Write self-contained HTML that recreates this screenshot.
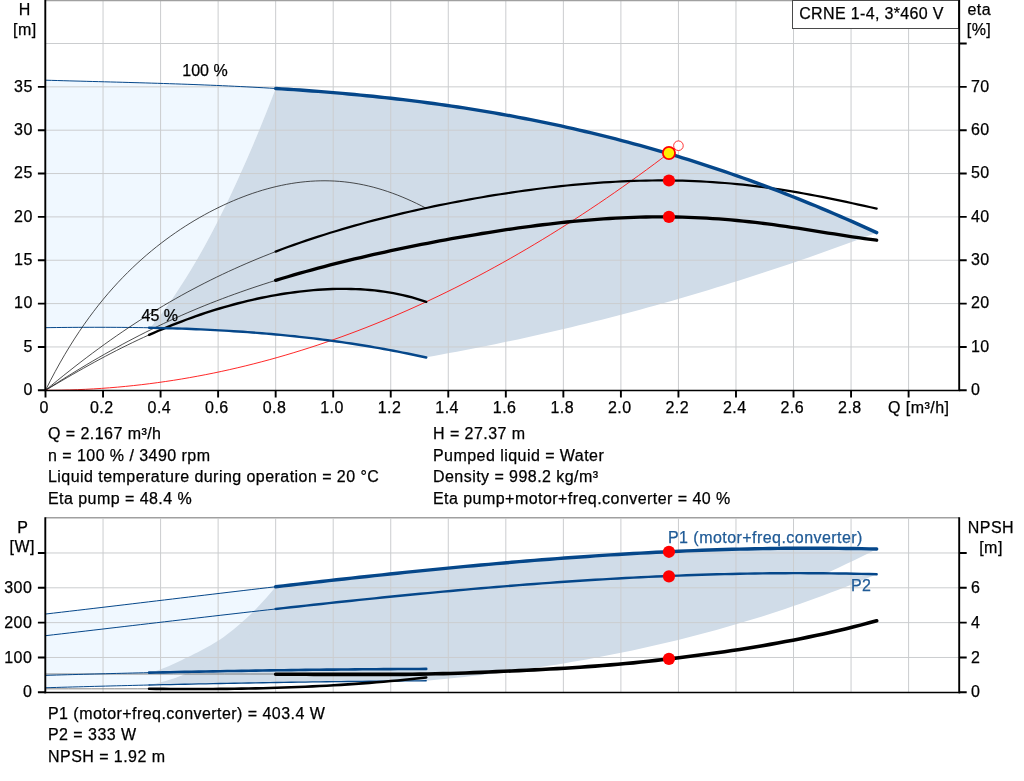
<!DOCTYPE html>
<html lang="en">
<head>
<meta charset="utf-8">
<title>CRNE 1-4 pump curve</title>
<style>html,body{margin:0;padding:0;background:#fff;overflow:hidden}svg{display:block}text{white-space:pre;letter-spacing:0.45px;stroke:#000;stroke-width:0.25px}text.b{stroke:#1f5a96}</style>
</head>
<body>
<svg width="1024" height="781" viewBox="0 0 1024 781" font-family="'Liberation Sans', Arial, sans-serif" font-size="16" fill="#000">
<rect width="1024" height="781" fill="#fff"/>
<path d="M45.50,80.19 L51.40,80.36 L57.30,80.53 L63.20,80.69 L69.11,80.86 L75.01,81.02 L80.91,81.17 L86.81,81.33 L92.71,81.49 L98.61,81.64 L104.52,81.80 L110.42,81.96 L116.32,82.12 L122.22,82.28 L128.12,82.44 L134.02,82.61 L139.92,82.78 L145.83,82.95 L151.73,83.13 L157.63,83.31 L163.53,83.49 L169.43,83.69 L175.33,83.88 L181.24,84.09 L187.14,84.29 L193.04,84.51 L198.94,84.73 L204.84,84.97 L210.74,85.21 L216.64,85.45 L222.55,85.71 L228.45,85.98 L234.35,86.25 L240.25,86.54 L246.15,86.83 L252.05,87.14 L257.96,87.46 L263.86,87.78 L269.76,88.13 L275.66,88.48 L275.66,88.48 L272.41,96.93 L269.17,105.26 L265.92,113.48 L262.68,121.57 L259.43,129.54 L256.18,137.39 L252.94,145.13 L249.69,152.74 L246.45,160.23 L243.20,167.60 L239.96,174.86 L236.71,181.99 L233.46,189.00 L230.22,195.89 L226.97,202.67 L223.73,209.32 L220.48,215.85 L217.23,222.26 L213.99,228.55 L210.74,234.73 L207.50,240.78 L204.25,246.71 L201.01,252.52 L197.76,258.21 L194.51,263.78 L191.27,269.24 L188.02,274.57 L184.78,279.78 L181.53,284.87 L178.28,289.84 L175.04,294.69 L171.79,299.42 L168.55,304.04 L165.30,308.53 L162.06,312.90 L158.81,317.15 L155.56,321.28 L152.32,325.29 L149.07,329.18 L149.07,327.77 L143.62,327.67 L138.17,327.58 L132.72,327.51 L127.27,327.44 L121.82,327.39 L116.37,327.35 L110.91,327.32 L105.46,327.30 L100.01,327.29 L94.56,327.29 L89.11,327.30 L83.66,327.32 L78.21,327.35 L72.76,327.39 L67.30,327.43 L61.85,327.48 L56.40,327.54 L50.95,327.60 L45.50,327.68Z" fill="#f0f8ff"/>
<path d="M275.66,88.48 L283.27,88.95 L290.88,89.45 L298.48,89.96 L306.09,90.50 L313.70,91.07 L321.31,91.65 L328.91,92.26 L336.52,92.90 L344.13,93.57 L351.74,94.26 L359.34,94.98 L366.95,95.72 L374.56,96.50 L382.17,97.30 L389.77,98.14 L397.38,99.00 L404.99,99.90 L412.60,100.82 L420.21,101.78 L427.81,102.78 L435.42,103.80 L443.03,104.86 L450.64,105.95 L458.24,107.08 L465.85,108.25 L473.46,109.45 L481.07,110.68 L488.67,111.95 L496.28,113.26 L503.89,114.61 L511.50,115.99 L519.11,117.42 L526.71,118.88 L534.32,120.38 L541.93,121.92 L549.54,123.50 L557.14,125.12 L564.75,126.78 L572.36,128.48 L579.97,130.23 L587.57,132.01 L595.18,133.84 L602.79,135.71 L610.40,137.62 L618.00,139.57 L625.61,141.57 L633.22,143.61 L640.83,145.69 L648.44,147.82 L656.04,149.99 L663.65,152.20 L671.26,154.46 L678.87,156.77 L686.47,159.11 L694.08,161.51 L701.69,163.95 L709.30,166.43 L716.90,168.96 L724.51,171.53 L732.12,174.15 L739.73,176.82 L747.34,179.53 L754.94,182.28 L762.55,185.09 L770.16,187.93 L777.77,190.83 L785.37,193.77 L792.98,196.76 L800.59,199.79 L808.20,202.87 L815.80,205.99 L823.41,209.16 L831.02,212.38 L838.63,215.64 L846.23,218.95 L853.84,222.30 L861.45,225.70 L869.06,229.15 L876.67,232.64 L876.67,232.64 L869.03,235.52 L861.40,238.38 L853.76,241.21 L846.13,244.01 L838.49,246.79 L830.86,249.54 L823.23,252.26 L815.59,254.96 L807.96,257.63 L800.32,260.27 L792.69,262.89 L785.05,265.48 L777.42,268.04 L769.79,270.58 L762.15,273.09 L754.52,275.57 L746.88,278.03 L739.25,280.46 L731.61,282.87 L723.98,285.24 L716.35,287.60 L708.71,289.92 L701.08,292.22 L693.44,294.49 L685.81,296.73 L678.17,298.95 L670.54,301.14 L662.91,303.31 L655.27,305.44 L647.64,307.56 L640.00,309.64 L632.37,311.70 L624.73,313.73 L617.10,315.74 L609.47,317.71 L601.83,319.67 L594.20,321.59 L586.56,323.49 L578.93,325.36 L571.29,327.21 L563.66,329.03 L556.03,330.82 L548.39,332.58 L540.76,334.32 L533.12,336.04 L525.49,337.72 L517.85,339.38 L510.22,341.01 L502.59,342.62 L494.95,344.20 L487.32,345.75 L479.68,347.28 L472.05,348.78 L464.41,350.25 L456.78,351.70 L449.15,353.12 L441.51,354.51 L433.88,355.88 L426.24,357.22 L426.24,357.52 L419.14,355.96 L412.03,354.45 L404.92,352.99 L397.81,351.58 L390.71,350.23 L383.60,348.92 L376.49,347.66 L369.39,346.44 L362.28,345.27 L355.17,344.15 L348.07,343.07 L340.96,342.03 L333.85,341.04 L326.75,340.09 L319.64,339.18 L312.53,338.31 L305.42,337.49 L298.32,336.70 L291.21,335.95 L284.10,335.23 L277.00,334.56 L269.89,333.92 L262.78,333.31 L255.68,332.74 L248.57,332.20 L241.46,331.70 L234.36,331.23 L227.25,330.78 L220.14,330.37 L213.03,329.99 L205.93,329.64 L198.82,329.32 L191.71,329.02 L184.61,328.75 L177.50,328.50 L170.39,328.29 L163.29,328.09 L156.18,327.92 L149.07,327.77 L149.07,329.18 L152.32,325.29 L155.56,321.28 L158.81,317.15 L162.06,312.90 L165.30,308.53 L168.55,304.04 L171.79,299.42 L175.04,294.69 L178.28,289.84 L181.53,284.87 L184.78,279.78 L188.02,274.57 L191.27,269.24 L194.51,263.78 L197.76,258.21 L201.01,252.52 L204.25,246.71 L207.50,240.78 L210.74,234.73 L213.99,228.55 L217.23,222.26 L220.48,215.85 L223.73,209.32 L226.97,202.67 L230.22,195.89 L233.46,189.00 L236.71,181.99 L239.96,174.86 L243.20,167.60 L246.45,160.23 L249.69,152.74 L252.94,145.13 L256.18,137.39 L259.43,129.54 L262.68,121.57 L265.92,113.48 L269.17,105.26 L272.41,96.93 L275.66,88.48Z" fill="#d0dce8"/>
<path d="M45.50,614.04 L53.44,613.12 L61.37,612.19 L69.31,611.26 L77.25,610.33 L85.18,609.40 L93.12,608.46 L101.06,607.52 L108.99,606.58 L116.93,605.63 L124.87,604.69 L132.80,603.74 L140.74,602.79 L148.68,601.84 L156.61,600.89 L164.55,599.94 L172.48,598.99 L180.42,598.04 L188.36,597.09 L196.29,596.14 L204.23,595.19 L212.17,594.24 L220.10,593.30 L228.04,592.35 L235.98,591.41 L243.91,590.47 L251.85,589.54 L259.79,588.60 L267.72,587.67 L275.66,586.75 L275.66,608.99 L271.29,613.72 L266.93,618.26 L262.56,622.63 L258.20,626.82 L253.83,630.84 L249.47,634.68 L245.10,638.37 L240.74,641.89 L236.37,645.25 L232.01,648.46 L227.64,651.52 L223.28,654.43 L218.91,657.19 L214.55,659.82 L210.18,662.32 L205.82,664.68 L201.45,666.91 L197.09,669.02 L192.72,671.00 L188.36,672.87 L183.99,674.63 L179.63,676.28 L175.26,677.81 L170.90,679.25 L166.53,680.59 L162.17,681.83 L157.80,682.98 L153.44,684.04 L149.07,685.02 L149.07,685.02 L143.62,685.15 L138.17,685.28 L132.72,685.41 L127.27,685.55 L121.82,685.68 L116.37,685.82 L110.91,685.96 L105.46,686.10 L100.01,686.24 L94.56,686.38 L89.11,686.53 L83.66,686.68 L78.21,686.83 L72.76,686.98 L67.30,687.13 L61.85,687.28 L56.40,687.44 L50.95,687.60 L45.50,687.76Z" fill="#f0f8ff"/>
<path d="M275.66,586.75 L283.27,585.87 L290.88,584.99 L298.48,584.11 L306.09,583.24 L313.70,582.37 L321.31,581.51 L328.91,580.66 L336.52,579.80 L344.13,578.96 L351.74,578.12 L359.34,577.29 L366.95,576.46 L374.56,575.64 L382.17,574.83 L389.77,574.02 L397.38,573.22 L404.99,572.43 L412.60,571.65 L420.21,570.88 L427.81,570.11 L435.42,569.35 L443.03,568.60 L450.64,567.86 L458.24,567.13 L465.85,566.41 L473.46,565.70 L481.07,565.01 L488.67,564.32 L496.28,563.64 L503.89,562.97 L511.50,562.31 L519.11,561.67 L526.71,561.04 L534.32,560.42 L541.93,559.81 L549.54,559.21 L557.14,558.63 L564.75,558.06 L572.36,557.50 L579.97,556.96 L587.57,556.43 L595.18,555.91 L602.79,555.41 L610.40,554.92 L618.00,554.45 L625.61,553.99 L633.22,553.55 L640.83,553.13 L648.44,552.71 L656.04,552.32 L663.65,551.94 L671.26,551.58 L678.87,551.24 L686.47,550.91 L694.08,550.60 L701.69,550.31 L709.30,550.03 L716.90,549.78 L724.51,549.54 L732.12,549.32 L739.73,549.12 L747.34,548.93 L754.94,548.77 L762.55,548.63 L770.16,548.51 L777.77,548.40 L785.37,548.32 L792.98,548.26 L800.59,548.22 L808.20,548.20 L815.80,548.20 L823.41,548.22 L831.02,548.27 L838.63,548.34 L846.23,548.43 L853.84,548.54 L861.45,548.67 L869.06,548.83 L876.67,549.01 L876.67,549.01 L869.03,552.90 L861.40,556.70 L853.76,560.44 L846.13,564.10 L838.49,567.68 L830.86,571.18 L823.23,574.60 L815.59,577.94 L807.96,581.21 L800.32,584.39 L792.69,587.49 L785.05,590.52 L777.42,593.46 L769.79,596.33 L762.15,599.12 L754.52,601.84 L746.88,604.48 L739.25,607.04 L731.61,609.53 L723.98,611.96 L716.35,614.31 L708.71,616.59 L701.08,618.81 L693.44,620.96 L685.81,623.04 L678.17,625.07 L670.54,627.04 L662.91,628.95 L655.27,630.80 L647.64,632.60 L640.00,634.34 L632.37,636.04 L624.73,637.69 L617.10,639.29 L609.47,640.84 L601.83,642.36 L594.20,643.83 L586.56,645.26 L578.93,646.66 L571.29,648.02 L563.66,649.34 L556.03,650.63 L548.39,651.90 L540.76,653.13 L533.12,654.33 L525.49,655.51 L517.85,656.67 L510.22,657.79 L502.59,658.90 L494.95,659.99 L487.32,661.05 L479.68,662.09 L472.05,663.12 L464.41,664.13 L456.78,665.12 L449.15,666.09 L441.51,667.05 L433.88,667.99 L426.24,668.92 L426.24,668.92 L419.14,668.95 L412.03,668.98 L404.92,669.02 L397.81,669.06 L390.71,669.11 L383.60,669.15 L376.49,669.21 L369.39,669.26 L362.28,669.32 L355.17,669.38 L348.07,669.45 L340.96,669.51 L333.85,669.59 L326.75,669.66 L319.64,669.74 L312.53,669.82 L305.42,669.91 L298.32,670.00 L291.21,670.09 L284.10,670.18 L277.00,670.28 L269.89,670.39 L262.78,670.49 L255.68,670.60 L248.57,670.71 L241.46,670.83 L234.36,670.95 L227.25,671.07 L220.14,671.20 L213.03,671.33 L205.93,671.46 L198.82,671.60 L191.71,671.74 L184.61,671.88 L177.50,672.03 L170.39,672.18 L163.29,672.33 L156.18,672.49 L149.07,672.65 L149.07,672.65 L152.32,671.82 L155.56,670.91 L158.81,669.90 L162.06,668.79 L165.30,667.57 L168.55,666.23 L171.79,664.81 L175.04,663.32 L178.28,661.78 L181.53,660.20 L184.78,658.60 L188.02,657.00 L191.27,655.41 L194.51,653.81 L197.76,652.19 L201.01,650.54 L204.25,648.84 L207.50,647.08 L210.74,645.25 L213.99,643.33 L217.23,641.32 L220.48,639.19 L223.73,636.93 L226.97,634.55 L230.22,632.05 L233.46,629.45 L236.71,626.75 L239.96,623.96 L243.20,621.09 L246.45,618.16 L249.69,615.13 L252.94,611.98 L256.18,608.70 L259.43,605.31 L262.68,601.80 L265.92,598.19 L269.17,594.47 L272.41,590.66 L275.66,586.75Z" fill="#d0dce8"/>
<path d="M275.66,608.99 L283.27,608.14 L290.88,607.29 L298.48,606.45 L306.09,605.61 L313.70,604.78 L321.31,603.95 L328.91,603.13 L336.52,602.31 L344.13,601.50 L351.74,600.70 L359.34,599.90 L366.95,599.11 L374.56,598.33 L382.17,597.56 L389.77,596.79 L397.38,596.03 L404.99,595.28 L412.60,594.54 L420.21,593.80 L427.81,593.08 L435.42,592.36 L443.03,591.65 L450.64,590.95 L458.24,590.26 L465.85,589.59 L473.46,588.92 L481.07,588.26 L488.67,587.61 L496.28,586.98 L503.89,586.35 L511.50,585.74 L519.11,585.13 L526.71,584.54 L534.32,583.97 L541.93,583.40 L549.54,582.85 L557.14,582.31 L564.75,581.78 L572.36,581.26 L579.97,580.76 L587.57,580.27 L595.18,579.80 L602.79,579.34 L610.40,578.90 L618.00,578.47 L625.61,578.05 L633.22,577.65 L640.83,577.27 L648.44,576.90 L656.04,576.55 L663.65,576.21 L671.26,575.89 L678.87,575.58 L686.47,575.30 L694.08,575.03 L701.69,574.77 L709.30,574.54 L716.90,574.32 L724.51,574.12 L732.12,573.94 L739.73,573.78 L747.34,573.63 L754.94,573.51 L762.55,573.40 L770.16,573.31 L777.77,573.25 L785.37,573.20 L792.98,573.17 L800.59,573.16 L808.20,573.18 L815.80,573.21 L823.41,573.27 L831.02,573.34 L838.63,573.44 L846.23,573.56 L853.84,573.70 L861.45,573.87 L869.06,574.06 L876.67,574.26 L876.67,574.26 L869.03,577.46 L861.40,580.60 L853.76,583.68 L846.13,586.71 L838.49,589.68 L830.86,592.59 L823.23,595.45 L815.59,598.25 L807.96,601.00 L800.32,603.69 L792.69,606.33 L785.05,608.92 L777.42,611.46 L769.79,613.94 L762.15,616.38 L754.52,618.76 L746.88,621.09 L739.25,623.37 L731.61,625.61 L723.98,627.79 L716.35,629.93 L708.71,632.02 L701.08,634.06 L693.44,636.05 L685.81,638.00 L678.17,639.91 L670.54,641.77 L662.91,643.58 L655.27,645.35 L647.64,647.08 L640.00,648.77 L632.37,650.41 L624.73,652.01 L617.10,653.57 L609.47,655.09 L601.83,656.57 L594.20,658.01 L586.56,659.41 L578.93,660.77 L571.29,662.10 L563.66,663.38 L556.03,664.63 L548.39,665.85 L540.76,667.02 L533.12,668.17 L525.49,669.27 L517.85,670.35 L510.22,671.39 L502.59,672.39 L494.95,673.37 L487.32,674.31 L479.68,675.22 L472.05,676.10 L464.41,676.94 L456.78,677.76 L449.15,678.55 L441.51,679.31 L433.88,680.04 L426.24,680.74 L426.24,680.74 L419.14,680.80 L412.03,680.86 L404.92,680.92 L397.81,680.98 L390.71,681.05 L383.60,681.11 L376.49,681.19 L369.39,681.26 L362.28,681.34 L355.17,681.42 L348.07,681.50 L340.96,681.59 L333.85,681.68 L326.75,681.77 L319.64,681.86 L312.53,681.96 L305.42,682.06 L298.32,682.17 L291.21,682.27 L284.10,682.38 L277.00,682.50 L269.89,682.61 L262.78,682.73 L255.68,682.85 L248.57,682.98 L241.46,683.10 L234.36,683.23 L227.25,683.37 L220.14,683.50 L213.03,683.64 L205.93,683.78 L198.82,683.93 L191.71,684.07 L184.61,684.23 L177.50,684.38 L170.39,684.54 L163.29,684.69 L156.18,684.86 L149.07,685.02 L149.07,685.02 L152.32,684.30 L155.56,683.54 L158.81,682.72 L162.06,681.86 L165.30,680.95 L168.55,679.98 L171.79,678.96 L175.04,677.89 L178.28,676.76 L181.53,675.57 L184.78,674.32 L188.02,673.01 L191.27,671.64 L194.51,670.20 L197.76,668.70 L201.01,667.13 L204.25,665.49 L207.50,663.78 L210.74,662.00 L213.99,660.15 L217.23,658.22 L220.48,656.22 L223.73,654.13 L226.97,651.97 L230.22,649.73 L233.46,647.40 L236.71,645.00 L239.96,642.50 L243.20,639.92 L246.45,637.25 L249.69,634.49 L252.94,631.64 L256.18,628.70 L259.43,625.66 L262.68,622.52 L265.92,619.29 L269.17,615.96 L272.41,612.52 L275.66,608.99Z" fill="#d0dce8"/>
<path d="M103.04,1V390.30 M103.04,518.75V692.30 M160.58,1V390.30 M160.58,518.75V692.30 M218.12,1V390.30 M218.12,518.75V692.30 M275.66,1V390.30 M275.66,518.75V692.30 M333.20,1V390.30 M333.20,518.75V692.30 M390.74,1V390.30 M390.74,518.75V692.30 M448.28,1V390.30 M448.28,518.75V692.30 M505.82,1V390.30 M505.82,518.75V692.30 M563.36,1V390.30 M563.36,518.75V692.30 M620.90,1V390.30 M620.90,518.75V692.30 M678.44,1V390.30 M678.44,518.75V692.30 M735.98,1V390.30 M735.98,518.75V692.30 M793.52,1V390.30 M793.52,518.75V692.30 M851.06,1V390.30 M851.06,518.75V692.30 M908.60,1V390.30 M908.60,518.75V692.30 M45.50,346.95H959.20 M45.50,303.60H959.20 M45.50,260.25H959.20 M45.50,216.90H959.20 M45.50,173.55H959.20 M45.50,130.20H959.20 M45.50,86.85H959.20 M45.50,43.50H959.20 M45.50,657.47H959.20 M45.50,622.64H959.20 M45.50,587.81H959.20 M45.50,552.98H959.20" stroke="#cbcdcf" stroke-width="1" fill="none"/>
<path d="M45.50,80.19 L51.40,80.36 L57.30,80.53 L63.20,80.69 L69.11,80.86 L75.01,81.02 L80.91,81.17 L86.81,81.33 L92.71,81.49 L98.61,81.64 L104.52,81.80 L110.42,81.96 L116.32,82.12 L122.22,82.28 L128.12,82.44 L134.02,82.61 L139.92,82.78 L145.83,82.95 L151.73,83.13 L157.63,83.31 L163.53,83.49 L169.43,83.69 L175.33,83.88 L181.24,84.09 L187.14,84.29 L193.04,84.51 L198.94,84.73 L204.84,84.97 L210.74,85.21 L216.64,85.45 L222.55,85.71 L228.45,85.98 L234.35,86.25 L240.25,86.54 L246.15,86.83 L252.05,87.14 L257.96,87.46 L263.86,87.78 L269.76,88.13 L275.66,88.48" stroke="#05478a" stroke-width="1" fill="none" stroke-linecap="round" stroke-linejoin="round" />
<path d="M45.50,327.68 L50.95,327.60 L56.40,327.54 L61.85,327.48 L67.30,327.43 L72.76,327.39 L78.21,327.35 L83.66,327.32 L89.11,327.30 L94.56,327.29 L100.01,327.29 L105.46,327.30 L110.91,327.32 L116.37,327.35 L121.82,327.39 L127.27,327.44 L132.72,327.51 L138.17,327.58 L143.62,327.67 L149.07,327.77" stroke="#05478a" stroke-width="1" fill="none" stroke-linecap="round" stroke-linejoin="round" />
<path d="M45.50,390.30 L51.40,385.41 L57.30,380.58 L63.20,375.81 L69.11,371.11 L75.01,366.47 L80.91,361.90 L86.81,357.41 L92.71,352.98 L98.61,348.63 L104.52,344.35 L110.42,340.14 L116.32,336.01 L122.22,331.95 L128.12,327.97 L134.02,324.07 L139.92,320.24 L145.83,316.48 L151.73,312.80 L157.63,309.19 L163.53,305.66 L169.43,302.21 L175.33,298.82 L181.24,295.51 L187.14,292.27 L193.04,289.10 L198.94,286.00 L204.84,282.97 L210.74,280.01 L216.64,277.12 L222.55,274.29 L228.45,271.53 L234.35,268.83 L240.25,266.19 L246.15,263.61 L252.05,261.10 L257.96,258.64 L263.86,256.24 L269.76,253.90 L275.66,251.61" stroke="#222" stroke-width="0.8" fill="none" stroke-linecap="round" stroke-linejoin="round" />
<path d="M45.50,390.30 L51.40,386.50 L57.30,382.73 L63.20,379.01 L69.11,375.33 L75.01,371.69 L80.91,368.10 L86.81,364.56 L92.71,361.07 L98.61,357.64 L104.52,354.25 L110.42,350.93 L116.32,347.66 L122.22,344.45 L128.12,341.29 L134.02,338.19 L139.92,335.15 L145.83,332.17 L151.73,329.25 L157.63,326.39 L163.53,323.58 L169.43,320.83 L175.33,318.14 L181.24,315.51 L187.14,312.93 L193.04,310.41 L198.94,307.94 L204.84,305.53 L210.74,303.17 L216.64,300.86 L222.55,298.60 L228.45,296.40 L234.35,294.24 L240.25,292.13 L246.15,290.06 L252.05,288.04 L257.96,286.07 L263.86,284.13 L269.76,282.24 L275.66,280.39" stroke="#222" stroke-width="0.8" fill="none" stroke-linecap="round" stroke-linejoin="round" />
<path d="M45.50,390.30 L50.32,380.77 L55.14,371.65 L59.96,362.92 L64.78,354.57 L69.60,346.58 L74.42,338.92 L79.24,331.58 L84.06,324.55 L88.88,317.81 L93.70,311.35 L98.51,305.14 L103.33,299.18 L108.15,293.46 L112.97,287.96 L117.79,282.68 L122.61,277.60 L127.43,272.71 L132.25,268.00 L137.07,263.47 L141.89,259.10 L146.71,254.90 L151.53,250.84 L156.35,246.93 L161.17,243.16 L165.99,239.52 L170.81,236.02 L175.63,232.64 L180.45,229.37 L185.27,226.23 L190.09,223.20 L194.91,220.28 L199.72,217.47 L204.54,214.76 L209.36,212.16 L214.18,209.66 L219.00,207.27 L223.82,204.97 L228.64,202.78 L233.46,200.69 L238.28,198.69 L243.10,196.80 L247.92,195.00 L252.74,193.31 L257.56,191.72 L262.38,190.23 L267.20,188.85 L272.02,187.57 L276.84,186.40 L281.66,185.33 L286.48,184.37 L291.30,183.52 L296.12,182.78 L300.93,182.16 L305.75,181.65 L310.57,181.25 L315.39,180.98 L320.21,180.82 L325.03,180.78 L329.85,180.86 L334.67,181.06 L339.49,181.39 L344.31,181.84 L349.13,182.42 L353.95,183.12 L358.77,183.94 L363.59,184.89 L368.41,185.97 L373.23,187.17 L378.05,188.50 L382.87,189.95 L387.69,191.52 L392.51,193.22 L397.33,195.03 L402.14,196.96 L406.96,199.01 L411.78,201.17 L416.60,203.44 L421.42,205.81 L426.24,208.29" stroke="#222" stroke-width="0.8" fill="none" stroke-linecap="round" stroke-linejoin="round" />
<path d="M45.50,390.30 L50.95,387.07 L56.40,383.86 L61.85,380.67 L67.30,377.50 L72.76,374.35 L78.21,371.24 L83.66,368.16 L89.11,365.12 L94.56,362.12 L100.01,359.17 L105.46,356.26 L110.91,353.40 L116.37,350.59 L121.82,347.83 L127.27,345.13 L132.72,342.48 L138.17,339.89 L143.62,337.36 L149.07,334.88" stroke="#222" stroke-width="0.8" fill="none" stroke-linecap="round" stroke-linejoin="round" />
<path d="M45.50,390.30 L53.51,390.26 L61.52,390.14 L69.54,389.95 L77.55,389.67 L85.56,389.32 L93.57,388.89 L101.58,388.38 L109.60,387.79 L117.61,387.13 L125.62,386.38 L133.63,385.56 L141.64,384.66 L149.65,383.68 L157.67,382.62 L165.68,381.48 L173.69,380.27 L181.70,378.97 L189.71,377.60 L197.73,376.15 L205.74,374.62 L213.75,373.02 L221.76,371.33 L229.77,369.57 L237.79,367.73 L245.80,365.81 L253.81,363.81 L261.82,361.73 L269.83,359.58 L277.85,357.34 L285.86,355.03 L293.87,352.64 L301.88,350.17 L309.89,347.62 L317.90,345.00 L325.92,342.29 L333.93,339.51 L341.94,336.65 L349.95,333.71 L357.96,330.69 L365.98,327.60 L373.99,324.42 L382.00,321.17 L390.01,317.84 L398.02,314.43 L406.04,310.94 L414.05,307.38 L422.06,303.73 L430.07,300.01 L438.08,296.21 L446.09,292.33 L454.11,288.37 L462.12,284.33 L470.13,280.22 L478.14,276.02 L486.15,271.75 L494.17,267.40 L502.18,262.97 L510.19,258.47 L518.20,253.88 L526.21,249.22 L534.23,244.48 L542.24,239.66 L550.25,234.76 L558.26,229.78 L566.27,224.73 L574.29,219.59 L582.30,214.38 L590.31,209.09 L598.32,203.72 L606.33,198.27 L614.34,192.75 L622.36,187.14 L630.37,181.46 L638.38,175.70 L646.39,169.86 L654.40,163.94 L662.42,157.95 L670.43,151.87 L678.44,145.72" stroke="#ff1010" stroke-width="0.9" fill="none" stroke-linecap="round" stroke-linejoin="round" />
<path d="M275.66,251.61 L281.73,249.31 L287.80,247.06 L293.87,244.87 L299.94,242.74 L306.01,240.65 L312.08,238.61 L318.16,236.62 L324.23,234.68 L330.30,232.78 L336.37,230.93 L342.44,229.12 L348.51,227.36 L354.58,225.63 L360.65,223.94 L366.72,222.29 L372.79,220.68 L378.86,219.11 L384.93,217.57 L391.00,216.07 L397.08,214.60 L403.15,213.16 L409.22,211.75 L415.29,210.38 L421.36,209.04 L427.43,207.73 L433.50,206.44 L439.57,205.19 L445.64,203.97 L451.71,202.77 L457.78,201.61 L463.85,200.47 L469.92,199.36 L476.00,198.28 L482.07,197.23 L488.14,196.20 L494.21,195.20 L500.28,194.23 L506.35,193.29 L512.42,192.38 L518.49,191.50 L524.56,190.65 L530.63,189.82 L536.70,189.03 L542.77,188.27 L548.84,187.53 L554.91,186.83 L560.99,186.17 L567.06,185.53 L573.13,184.93 L579.20,184.36 L585.27,183.83 L591.34,183.34 L597.41,182.88 L603.48,182.46 L609.55,182.07 L615.62,181.73 L621.69,181.42 L627.76,181.16 L633.83,180.93 L639.91,180.75 L645.98,180.61 L652.05,180.52 L658.12,180.46 L664.19,180.46 L670.26,180.50 L676.33,180.58 L682.40,180.72 L688.47,180.90 L694.54,181.13 L700.61,181.40 L706.68,181.73 L712.75,182.10 L718.83,182.53 L724.90,183.00 L730.97,183.52 L737.04,184.09 L743.11,184.71 L749.18,185.38 L755.25,186.10 L761.32,186.87 L767.39,187.68 L773.46,188.54 L779.53,189.44 L785.60,190.39 L791.67,191.38 L797.75,192.41 L803.82,193.49 L809.89,194.60 L815.96,195.75 L822.03,196.93 L828.10,198.14 L834.17,199.38 L840.24,200.64 L846.31,201.93 L852.38,203.24 L858.45,204.56 L864.52,205.89 L870.59,207.23 L876.67,208.58" stroke="#000" stroke-width="2.2" fill="none" stroke-linecap="round" stroke-linejoin="round" />
<path d="M275.66,280.39 L281.73,278.53 L287.80,276.71 L293.87,274.92 L299.94,273.18 L306.01,271.47 L312.08,269.79 L318.16,268.15 L324.23,266.55 L330.30,264.97 L336.37,263.42 L342.44,261.91 L348.51,260.42 L354.58,258.96 L360.65,257.52 L366.72,256.11 L372.79,254.73 L378.86,253.37 L384.93,252.03 L391.00,250.72 L397.08,249.42 L403.15,248.15 L409.22,246.90 L415.29,245.68 L421.36,244.47 L427.43,243.28 L433.50,242.11 L439.57,240.97 L445.64,239.84 L451.71,238.73 L457.78,237.64 L463.85,236.58 L469.92,235.53 L476.00,234.51 L482.07,233.50 L488.14,232.52 L494.21,231.56 L500.28,230.62 L506.35,229.71 L512.42,228.82 L518.49,227.95 L524.56,227.11 L530.63,226.30 L536.70,225.51 L542.77,224.75 L548.84,224.02 L554.91,223.32 L560.99,222.65 L567.06,222.01 L573.13,221.40 L579.20,220.83 L585.27,220.29 L591.34,219.78 L597.41,219.32 L603.48,218.89 L609.55,218.50 L615.62,218.15 L621.69,217.84 L627.76,217.57 L633.83,217.34 L639.91,217.16 L645.98,217.02 L652.05,216.92 L658.12,216.87 L664.19,216.87 L670.26,216.91 L676.33,217.00 L682.40,217.14 L688.47,217.33 L694.54,217.56 L700.61,217.84 L706.68,218.17 L712.75,218.54 L718.83,218.96 L724.90,219.43 L730.97,219.95 L737.04,220.51 L743.11,221.11 L749.18,221.75 L755.25,222.44 L761.32,223.16 L767.39,223.93 L773.46,224.73 L779.53,225.56 L785.60,226.42 L791.67,227.31 L797.75,228.22 L803.82,229.15 L809.89,230.10 L815.96,231.07 L822.03,232.04 L828.10,233.01 L834.17,233.98 L840.24,234.95 L846.31,235.90 L852.38,236.83 L858.45,237.74 L864.52,238.62 L870.59,239.45 L876.67,240.23" stroke="#000" stroke-width="3.3" fill="none" stroke-linecap="round" stroke-linejoin="round" />
<path d="M149.07,334.88 L153.77,332.80 L158.47,330.76 L163.17,328.77 L167.86,326.82 L172.56,324.92 L177.26,323.07 L181.96,321.26 L186.65,319.50 L191.35,317.78 L196.05,316.12 L200.75,314.50 L205.45,312.93 L210.14,311.40 L214.84,309.92 L219.54,308.49 L224.24,307.11 L228.93,305.78 L233.63,304.49 L238.33,303.25 L243.03,302.06 L247.73,300.92 L252.42,299.82 L257.12,298.78 L261.82,297.78 L266.52,296.83 L271.21,295.93 L275.91,295.08 L280.61,294.28 L285.31,293.53 L290.01,292.84 L294.70,292.19 L299.40,291.60 L304.10,291.07 L308.80,290.58 L313.49,290.16 L318.19,289.79 L322.89,289.48 L327.59,289.23 L332.29,289.04 L336.98,288.91 L341.68,288.85 L346.38,288.86 L351.08,288.93 L355.78,289.08 L360.47,289.30 L365.17,289.60 L369.87,289.98 L374.57,290.43 L379.26,290.98 L383.96,291.61 L388.66,292.33 L393.36,293.15 L398.06,294.07 L402.75,295.09 L407.45,296.22 L412.15,297.46 L416.85,298.81 L421.54,300.29 L426.24,301.89" stroke="#000" stroke-width="2.4" fill="none" stroke-linecap="round" stroke-linejoin="round" />
<path d="M149.07,327.77 L153.77,327.87 L158.47,327.97 L163.17,328.09 L167.86,328.21 L172.56,328.35 L177.26,328.50 L181.96,328.66 L186.65,328.82 L191.35,329.01 L196.05,329.20 L200.75,329.40 L205.45,329.62 L210.14,329.85 L214.84,330.09 L219.54,330.34 L224.24,330.61 L228.93,330.89 L233.63,331.18 L238.33,331.49 L243.03,331.81 L247.73,332.14 L252.42,332.49 L257.12,332.85 L261.82,333.23 L266.52,333.62 L271.21,334.03 L275.91,334.46 L280.61,334.90 L285.31,335.35 L290.01,335.82 L294.70,336.31 L299.40,336.82 L304.10,337.34 L308.80,337.87 L313.49,338.43 L318.19,339.00 L322.89,339.59 L327.59,340.20 L332.29,340.83 L336.98,341.47 L341.68,342.14 L346.38,342.82 L351.08,343.52 L355.78,344.24 L360.47,344.98 L365.17,345.74 L369.87,346.52 L374.57,347.32 L379.26,348.14 L383.96,348.98 L388.66,349.84 L393.36,350.73 L398.06,351.63 L402.75,352.56 L407.45,353.50 L412.15,354.47 L416.85,355.47 L421.54,356.48 L426.24,357.52" stroke="#05478a" stroke-width="2.4" fill="none" stroke-linecap="round" stroke-linejoin="round" />
<path d="M275.66,88.48 L281.73,88.85 L287.80,89.24 L293.87,89.65 L299.94,90.06 L306.01,90.50 L312.08,90.94 L318.16,91.41 L324.23,91.88 L330.30,92.38 L336.37,92.89 L342.44,93.42 L348.51,93.96 L354.58,94.52 L360.65,95.10 L366.72,95.70 L372.79,96.31 L378.86,96.95 L384.93,97.60 L391.00,98.27 L397.08,98.96 L403.15,99.68 L409.22,100.41 L415.29,101.16 L421.36,101.93 L427.43,102.73 L433.50,103.54 L439.57,104.38 L445.64,105.23 L451.71,106.11 L457.78,107.01 L463.85,107.94 L469.92,108.88 L476.00,109.85 L482.07,110.85 L488.14,111.86 L494.21,112.90 L500.28,113.97 L506.35,115.05 L512.42,116.16 L518.49,117.30 L524.56,118.46 L530.63,119.65 L536.70,120.86 L542.77,122.09 L548.84,123.35 L554.91,124.64 L560.99,125.95 L567.06,127.29 L573.13,128.66 L579.20,130.05 L585.27,131.47 L591.34,132.91 L597.41,134.38 L603.48,135.88 L609.55,137.40 L615.62,138.95 L621.69,140.53 L627.76,142.14 L633.83,143.77 L639.91,145.44 L645.98,147.12 L652.05,148.84 L658.12,150.59 L664.19,152.36 L670.26,154.16 L676.33,155.99 L682.40,157.85 L688.47,159.74 L694.54,161.65 L700.61,163.60 L706.68,165.57 L712.75,167.57 L718.83,169.60 L724.90,171.66 L730.97,173.75 L737.04,175.87 L743.11,178.02 L749.18,180.19 L755.25,182.40 L761.32,184.63 L767.39,186.89 L773.46,189.19 L779.53,191.51 L785.60,193.86 L791.67,196.24 L797.75,198.65 L803.82,201.09 L809.89,203.56 L815.96,206.05 L822.03,208.58 L828.10,211.14 L834.17,213.72 L840.24,216.34 L846.31,218.98 L852.38,221.66 L858.45,224.36 L864.52,227.09 L870.59,229.85 L876.67,232.64" stroke="#05478a" stroke-width="3.4" fill="none" stroke-linecap="round" stroke-linejoin="round" />
<path d="M45.50,614.04 L53.44,613.12 L61.37,612.19 L69.31,611.26 L77.25,610.33 L85.18,609.40 L93.12,608.46 L101.06,607.52 L108.99,606.58 L116.93,605.63 L124.87,604.69 L132.80,603.74 L140.74,602.79 L148.68,601.84 L156.61,600.89 L164.55,599.94 L172.48,598.99 L180.42,598.04 L188.36,597.09 L196.29,596.14 L204.23,595.19 L212.17,594.24 L220.10,593.30 L228.04,592.35 L235.98,591.41 L243.91,590.47 L251.85,589.54 L259.79,588.60 L267.72,587.67 L275.66,586.75" stroke="#05478a" stroke-width="1" fill="none" stroke-linecap="round" stroke-linejoin="round" />
<path d="M45.50,635.69 L53.44,634.78 L61.37,633.86 L69.31,632.94 L77.25,632.02 L85.18,631.10 L93.12,630.17 L101.06,629.24 L108.99,628.31 L116.93,627.38 L124.87,626.45 L132.80,625.52 L140.74,624.59 L148.68,623.66 L156.61,622.73 L164.55,621.80 L172.48,620.87 L180.42,619.94 L188.36,619.01 L196.29,618.09 L204.23,617.16 L212.17,616.24 L220.10,615.32 L228.04,614.41 L235.98,613.50 L243.91,612.59 L251.85,611.68 L259.79,610.78 L267.72,609.88 L275.66,608.99" stroke="#05478a" stroke-width="1" fill="none" stroke-linecap="round" stroke-linejoin="round" />
<path d="M45.50,674.01 L71.07,674.01 L96.65,674.01 L122.22,674.01 L147.79,674.01 L173.37,674.01 L198.94,674.01 L224.51,674.01 L250.09,674.01 L275.66,674.01" stroke="#666" stroke-width="0.8" fill="none" stroke-linecap="round" stroke-linejoin="round" />
<path d="M45.50,688.82 L57.01,688.82 L68.52,688.82 L80.02,688.82 L91.53,688.82 L103.04,688.82 L114.55,688.82 L126.06,688.82 L137.56,688.82 L149.07,688.82" stroke="#666" stroke-width="0.8" fill="none" stroke-linecap="round" stroke-linejoin="round" />
<path d="M45.50,675.38 L50.95,675.21 L56.40,675.05 L61.85,674.90 L67.30,674.74 L72.76,674.59 L78.21,674.44 L83.66,674.29 L89.11,674.14 L94.56,673.99 L100.01,673.85 L105.46,673.71 L110.91,673.57 L116.37,673.43 L121.82,673.30 L127.27,673.16 L132.72,673.03 L138.17,672.90 L143.62,672.78 L149.07,672.65" stroke="#05478a" stroke-width="1" fill="none" stroke-linecap="round" stroke-linejoin="round" />
<path d="M45.50,687.76 L50.95,687.60 L56.40,687.44 L61.85,687.28 L67.30,687.13 L72.76,686.98 L78.21,686.83 L83.66,686.68 L89.11,686.53 L94.56,686.38 L100.01,686.24 L105.46,686.10 L110.91,685.96 L116.37,685.82 L121.82,685.68 L127.27,685.55 L132.72,685.41 L138.17,685.28 L143.62,685.15 L149.07,685.02" stroke="#05478a" stroke-width="1" fill="none" stroke-linecap="round" stroke-linejoin="round" />
<path d="M149.07,685.02 L156.18,684.86 L163.29,684.69 L170.39,684.54 L177.50,684.38 L184.61,684.23 L191.71,684.07 L198.82,683.93 L205.93,683.78 L213.03,683.64 L220.14,683.50 L227.25,683.37 L234.36,683.23 L241.46,683.10 L248.57,682.98 L255.68,682.85 L262.78,682.73 L269.89,682.61 L277.00,682.50 L284.10,682.38 L291.21,682.27 L298.32,682.17 L305.42,682.06 L312.53,681.96 L319.64,681.86 L326.75,681.77 L333.85,681.68 L340.96,681.59 L348.07,681.50 L355.17,681.42 L362.28,681.34 L369.39,681.26 L376.49,681.19 L383.60,681.11 L390.71,681.05 L397.81,680.98 L404.92,680.92 L412.03,680.86 L419.14,680.80 L426.24,680.74" stroke="#05478a" stroke-width="1.3" fill="none" stroke-linecap="round" stroke-linejoin="round" />
<path d="M275.66,608.99 L283.27,608.14 L290.88,607.29 L298.48,606.45 L306.09,605.61 L313.70,604.78 L321.31,603.95 L328.91,603.13 L336.52,602.31 L344.13,601.50 L351.74,600.70 L359.34,599.90 L366.95,599.11 L374.56,598.33 L382.17,597.56 L389.77,596.79 L397.38,596.03 L404.99,595.28 L412.60,594.54 L420.21,593.80 L427.81,593.08 L435.42,592.36 L443.03,591.65 L450.64,590.95 L458.24,590.26 L465.85,589.59 L473.46,588.92 L481.07,588.26 L488.67,587.61 L496.28,586.98 L503.89,586.35 L511.50,585.74 L519.11,585.13 L526.71,584.54 L534.32,583.97 L541.93,583.40 L549.54,582.85 L557.14,582.31 L564.75,581.78 L572.36,581.26 L579.97,580.76 L587.57,580.27 L595.18,579.80 L602.79,579.34 L610.40,578.90 L618.00,578.47 L625.61,578.05 L633.22,577.65 L640.83,577.27 L648.44,576.90 L656.04,576.55 L663.65,576.21 L671.26,575.89 L678.87,575.58 L686.47,575.30 L694.08,575.03 L701.69,574.77 L709.30,574.54 L716.90,574.32 L724.51,574.12 L732.12,573.94 L739.73,573.78 L747.34,573.63 L754.94,573.51 L762.55,573.40 L770.16,573.31 L777.77,573.25 L785.37,573.20 L792.98,573.17 L800.59,573.16 L808.20,573.18 L815.80,573.21 L823.41,573.27 L831.02,573.34 L838.63,573.44 L846.23,573.56 L853.84,573.70 L861.45,573.87 L869.06,574.06 L876.67,574.26" stroke="#05478a" stroke-width="2.4" fill="none" stroke-linecap="round" stroke-linejoin="round" />
<path d="M275.66,674.19 L283.27,674.22 L290.88,674.25 L298.48,674.29 L306.09,674.31 L313.70,674.34 L321.31,674.35 L328.91,674.36 L336.52,674.36 L344.13,674.36 L351.74,674.36 L359.34,674.36 L366.95,674.36 L374.56,674.36 L382.17,674.36 L389.77,674.36 L397.38,674.36 L404.99,674.35 L412.60,674.27 L420.21,674.15 L427.81,673.99 L435.42,673.81 L443.03,673.62 L450.64,673.43 L458.24,673.21 L465.85,672.95 L473.46,672.65 L481.07,672.33 L488.67,672.00 L496.28,671.66 L503.89,671.31 L511.50,670.97 L519.11,670.62 L526.71,670.26 L534.32,669.88 L541.93,669.48 L549.54,669.07 L557.14,668.64 L564.75,668.18 L572.36,667.70 L579.97,667.20 L587.57,666.66 L595.18,666.10 L602.79,665.51 L610.40,664.90 L618.00,664.25 L625.61,663.57 L633.22,662.84 L640.83,662.05 L648.44,661.22 L656.04,660.36 L663.65,659.48 L671.26,658.59 L678.87,657.68 L686.47,656.74 L694.08,655.78 L701.69,654.80 L709.30,653.78 L716.90,652.74 L724.51,651.67 L732.12,650.56 L739.73,649.41 L747.34,648.22 L754.94,646.98 L762.55,645.70 L770.16,644.38 L777.77,643.01 L785.37,641.60 L792.98,640.16 L800.59,638.67 L808.20,637.13 L815.80,635.54 L823.41,633.90 L831.02,632.21 L838.63,630.47 L846.23,628.68 L853.84,626.83 L861.45,624.88 L869.06,622.83 L876.67,620.72" stroke="#000" stroke-width="3.6" fill="none" stroke-linecap="round" stroke-linejoin="round" />
<path d="M149.07,688.79 L156.18,688.86 L163.29,688.92 L170.39,688.97 L177.50,689.00 L184.61,689.02 L191.71,689.03 L198.82,689.02 L205.93,689.00 L213.03,688.96 L220.14,688.90 L227.25,688.83 L234.36,688.74 L241.46,688.63 L248.57,688.50 L255.68,688.36 L262.78,688.19 L269.89,688.00 L277.00,687.79 L284.10,687.56 L291.21,687.31 L298.32,687.03 L305.42,686.73 L312.53,686.41 L319.64,686.06 L326.75,685.69 L333.85,685.29 L340.96,684.86 L348.07,684.41 L355.17,683.92 L362.28,683.41 L369.39,682.88 L376.49,682.31 L383.60,681.71 L390.71,681.08 L397.81,680.42 L404.92,679.72 L412.03,679.00 L419.14,678.24 L426.24,677.45" stroke="#000" stroke-width="2.6" fill="none" stroke-linecap="round" stroke-linejoin="round" />
<path d="M149.07,672.65 L156.18,672.49 L163.29,672.33 L170.39,672.18 L177.50,672.03 L184.61,671.88 L191.71,671.74 L198.82,671.60 L205.93,671.46 L213.03,671.33 L220.14,671.20 L227.25,671.07 L234.36,670.95 L241.46,670.83 L248.57,670.71 L255.68,670.60 L262.78,670.49 L269.89,670.39 L277.00,670.28 L284.10,670.18 L291.21,670.09 L298.32,670.00 L305.42,669.91 L312.53,669.82 L319.64,669.74 L326.75,669.66 L333.85,669.59 L340.96,669.51 L348.07,669.45 L355.17,669.38 L362.28,669.32 L369.39,669.26 L376.49,669.21 L383.60,669.15 L390.71,669.11 L397.81,669.06 L404.92,669.02 L412.03,668.98 L419.14,668.95 L426.24,668.92" stroke="#05478a" stroke-width="2.6" fill="none" stroke-linecap="round" stroke-linejoin="round" />
<path d="M275.66,586.75 L283.27,585.87 L290.88,584.99 L298.48,584.11 L306.09,583.24 L313.70,582.37 L321.31,581.51 L328.91,580.66 L336.52,579.80 L344.13,578.96 L351.74,578.12 L359.34,577.29 L366.95,576.46 L374.56,575.64 L382.17,574.83 L389.77,574.02 L397.38,573.22 L404.99,572.43 L412.60,571.65 L420.21,570.88 L427.81,570.11 L435.42,569.35 L443.03,568.60 L450.64,567.86 L458.24,567.13 L465.85,566.41 L473.46,565.70 L481.07,565.01 L488.67,564.32 L496.28,563.64 L503.89,562.97 L511.50,562.31 L519.11,561.67 L526.71,561.04 L534.32,560.42 L541.93,559.81 L549.54,559.21 L557.14,558.63 L564.75,558.06 L572.36,557.50 L579.97,556.96 L587.57,556.43 L595.18,555.91 L602.79,555.41 L610.40,554.92 L618.00,554.45 L625.61,553.99 L633.22,553.55 L640.83,553.13 L648.44,552.71 L656.04,552.32 L663.65,551.94 L671.26,551.58 L678.87,551.24 L686.47,550.91 L694.08,550.60 L701.69,550.31 L709.30,550.03 L716.90,549.78 L724.51,549.54 L732.12,549.32 L739.73,549.12 L747.34,548.93 L754.94,548.77 L762.55,548.63 L770.16,548.51 L777.77,548.40 L785.37,548.32 L792.98,548.26 L800.59,548.22 L808.20,548.20 L815.80,548.20 L823.41,548.22 L831.02,548.27 L838.63,548.34 L846.23,548.43 L853.84,548.54 L861.45,548.67 L869.06,548.83 L876.67,549.01" stroke="#05478a" stroke-width="3.4" fill="none" stroke-linecap="round" stroke-linejoin="round" />
<path d="M45.50,0.5H959.2" stroke="#a0a0a0" stroke-width="1.5" fill="none"/>
<path d="M45.50,517.75H959.2" stroke="#a0a0a0" stroke-width="1.5" fill="none"/>
<rect x="792.5" y="0.5" width="166" height="28" fill="#fff" stroke="#4a4a4a" stroke-width="1"/>
<text x="799.2" y="19" style="letter-spacing:0.35px">CRNE 1-4, 3*460 V</text>
<path d="M45.30,0V391.10 M959.20,0V391.10 M45.30,517.25V693.30 M959.20,517.25V693.30" stroke="#000" stroke-width="1.9" fill="none"/>
<path d="M44.50,390.40H960.20 M44.50,692.60H960.20" stroke="#000" stroke-width="1.5" fill="none"/>
<path d="M37.90,390.30H45.50 M37.90,346.95H45.50 M37.90,303.60H45.50 M37.90,260.25H45.50 M37.90,216.90H45.50 M37.90,173.55H45.50 M37.90,130.20H45.50 M37.90,86.85H45.50 M959.20,390.30H966.70 M959.20,346.95H966.70 M959.20,303.60H966.70 M959.20,260.25H966.70 M959.20,216.90H966.70 M959.20,173.55H966.70 M959.20,130.20H966.70 M959.20,86.85H966.70 M959.20,43.50H966.70 M45.50,390.30V397.60 M103.04,390.30V397.60 M160.58,390.30V397.60 M218.12,390.30V397.60 M275.66,390.30V397.60 M333.20,390.30V397.60 M390.74,390.30V397.60 M448.28,390.30V397.60 M505.82,390.30V397.60 M563.36,390.30V397.60 M620.90,390.30V397.60 M678.44,390.30V397.60 M735.98,390.30V397.60 M793.52,390.30V397.60 M851.06,390.30V397.60 M908.60,390.30V397.60 M37.90,692.30H45.50 M959.20,692.30H966.70 M37.90,657.47H45.50 M959.20,657.47H966.70 M37.90,622.64H45.50 M959.20,622.64H966.70 M37.90,587.81H45.50 M959.20,587.81H966.70 M37.90,552.98H45.50 M959.20,552.98H966.70" stroke="#000" stroke-width="1.9" fill="none"/>
<circle cx="678.44" cy="145.72" r="4.8" fill="#fff" stroke="#ff2020" stroke-width="0.9"/>
<circle cx="668.95" cy="153.00" r="6.1" fill="#ffee00" stroke="#ff0000" stroke-width="1.8"/>
<circle cx="668.95" cy="180.49" r="6.1" fill="#ff0000"/>
<circle cx="668.95" cy="216.90" r="6.1" fill="#ff0000"/>
<circle cx="668.95" cy="551.80" r="6.1" fill="#ff0000"/>
<circle cx="668.95" cy="576.32" r="6.1" fill="#ff0000"/>
<circle cx="668.95" cy="658.86" r="6.1" fill="#ff0000"/>
<text x="24.7" y="14.6" text-anchor="middle">H</text>
<text x="24.8" y="35" text-anchor="middle">[m]</text>
<text x="32.8" y="395" text-anchor="end">0</text>
<text x="32.8" y="352" text-anchor="end">5</text>
<text x="32.8" y="308" text-anchor="end">10</text>
<text x="32.8" y="265" text-anchor="end">15</text>
<text x="32.8" y="222" text-anchor="end">20</text>
<text x="32.8" y="178" text-anchor="end">25</text>
<text x="32.8" y="135" text-anchor="end">30</text>
<text x="32.8" y="92" text-anchor="end">35</text>
<text x="979.2" y="14.6" text-anchor="middle">eta</text>
<text x="979" y="35" text-anchor="middle">[%]</text>
<text x="971" y="395">0</text>
<text x="971" y="352">10</text>
<text x="971" y="308">20</text>
<text x="971" y="265">30</text>
<text x="971" y="222">40</text>
<text x="971" y="178">50</text>
<text x="971" y="135">60</text>
<text x="971" y="92">70</text>
<text x="44.3" y="412.7" text-anchor="middle">0</text>
<text x="101.8" y="412.7" text-anchor="middle">0.2</text>
<text x="159.4" y="412.7" text-anchor="middle">0.4</text>
<text x="216.9" y="412.7" text-anchor="middle">0.6</text>
<text x="274.5" y="412.7" text-anchor="middle">0.8</text>
<text x="332.0" y="412.7" text-anchor="middle">1.0</text>
<text x="389.5" y="412.7" text-anchor="middle">1.2</text>
<text x="447.1" y="412.7" text-anchor="middle">1.4</text>
<text x="504.6" y="412.7" text-anchor="middle">1.6</text>
<text x="562.2" y="412.7" text-anchor="middle">1.8</text>
<text x="619.7" y="412.7" text-anchor="middle">2.0</text>
<text x="677.2" y="412.7" text-anchor="middle">2.2</text>
<text x="734.8" y="412.7" text-anchor="middle">2.4</text>
<text x="792.3" y="412.7" text-anchor="middle">2.6</text>
<text x="849.9" y="412.7" text-anchor="middle">2.8</text>
<text x="888" y="412.7">Q [m³/h]</text>
<text x="182.3" y="76" style="letter-spacing:0">100 %</text>
<text x="141.6" y="321.3" style="letter-spacing:0">45 %</text>
<text x="48" y="439">Q = 2.167 m³/h</text>
<text x="48" y="460.5">n = 100 % / 3490 rpm</text>
<text x="48" y="481.9">Liquid temperature during operation = 20 °C</text>
<text x="48" y="504.0">Eta pump = 48.4 %</text>
<text x="433" y="439">H = 27.37 m</text>
<text x="433" y="460.5">Pumped liquid = Water</text>
<text x="433" y="481.9">Density = 998.2 kg/m³</text>
<text x="433" y="504.0">Eta pump+motor+freq.converter = 40 %</text>
<text x="22.8" y="533.2" text-anchor="middle">P</text>
<text x="22.2" y="552.3" text-anchor="middle">[W]</text>
<text x="32.3" y="697" text-anchor="end">0</text>
<text x="32.3" y="663" text-anchor="end">100</text>
<text x="32.3" y="628" text-anchor="end">200</text>
<text x="32.3" y="593" text-anchor="end">300</text>
<text x="991" y="533" text-anchor="middle">NPSH</text>
<text x="991" y="552.5" text-anchor="middle">[m]</text>
<text x="971" y="697">0</text>
<text x="971" y="663">2</text>
<text x="971" y="628">4</text>
<text x="971" y="593">6</text>
<text x="668" y="543" fill="#1f5a96" class="b">P1 (motor+freq.converter)</text>
<text x="851" y="591" fill="#1f5a96" class="b">P2</text>
<text x="48" y="719">P1 (motor+freq.converter) = 403.4 W</text>
<text x="48" y="740">P2 = 333 W</text>
<text x="48" y="761.5">NPSH = 1.92 m</text>
</svg>
</body>
</html>
